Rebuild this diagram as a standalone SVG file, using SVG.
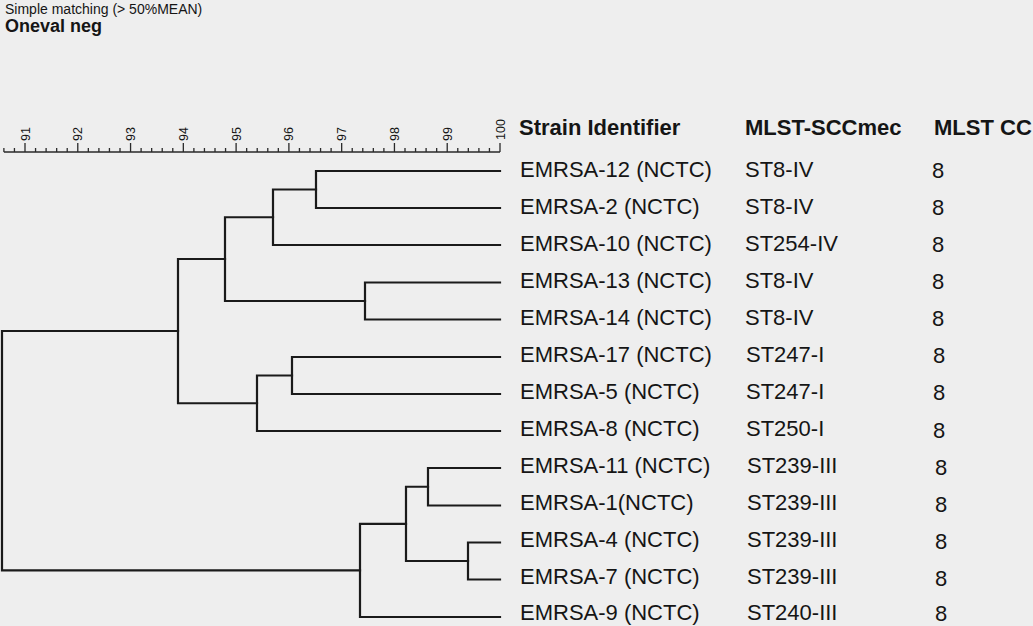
<svg xmlns="http://www.w3.org/2000/svg" width="1033" height="626" viewBox="0 0 1033 626">
<defs>
<style>
.t{font-family:"Liberation Sans",Arial,sans-serif;fill:#151515}
.row{font-size:22px}
.hd{font-size:22px;font-weight:bold}
.ax{font-size:12.5px}
.ln{fill:none;stroke:#1a1a1a;stroke-width:2.2;stroke-linecap:square}
.tk{fill:none;stroke:#2a2a2a;stroke-width:1.3}
</style>
</defs>
<rect width="1033" height="626" fill="#eeeeee"/>
<g id="title">
<text class="t" x="5" y="14" font-size="14">Simple matching (&gt; 50%MEAN)</text>
<text class="t" x="5" y="32" font-size="18" font-weight="bold">Oneval neg</text>
</g>
<g id="axis">
<path class="tk" d="M3.9,152 H500 M500,152 v-9 M447.22,152 v-9 M394.44,152 v-9 M341.67,152 v-9 M288.89,152 v-9 M236.11,152 v-9 M183.33,152 v-9 M130.56,152 v-9 M77.78,152 v-9 M25,152 v-9
M489.44,152 v-4 M478.89,152 v-4 M468.33,152 v-4 M457.78,152 v-4 M436.67,152 v-4 M426.11,152 v-4 M415.56,152 v-4 M405,152 v-4 M383.89,152 v-4 M373.33,152 v-4 M362.78,152 v-4 M352.22,152 v-4 M331.11,152 v-4 M320.56,152 v-4 M310,152 v-4 M299.44,152 v-4 M278.33,152 v-4 M267.78,152 v-4 M257.22,152 v-4 M246.67,152 v-4 M225.56,152 v-4 M215,152 v-4 M204.44,152 v-4 M193.89,152 v-4 M172.78,152 v-4 M162.22,152 v-4 M151.67,152 v-4 M141.11,152 v-4 M120,152 v-4 M109.44,152 v-4 M98.89,152 v-4 M88.33,152 v-4 M67.22,152 v-4 M56.67,152 v-4 M46.11,152 v-4 M35.56,152 v-4 M14.44,152 v-4 M3.89,152 v-4"/>
<g class="t ax">
<text transform="translate(29.5,141) rotate(-90)">91</text>
<text transform="translate(82.28,141) rotate(-90)">92</text>
<text transform="translate(135.06,141) rotate(-90)">93</text>
<text transform="translate(187.83,141) rotate(-90)">94</text>
<text transform="translate(240.61,141) rotate(-90)">95</text>
<text transform="translate(293.39,141) rotate(-90)">96</text>
<text transform="translate(346.17,141) rotate(-90)">97</text>
<text transform="translate(398.94,141) rotate(-90)">98</text>
<text transform="translate(451.72,141) rotate(-90)">99</text>
<text transform="translate(504.5,140) rotate(-90)">100</text>
</g>
</g>
<g id="header" class="t hd">
<text x="519" y="135">Strain Identifier</text>
<text x="745" y="135">MLST-SCCmec</text>
<text x="934" y="135">MLST CC</text>
</g>
<g id="connectors">
<path class="ln" d="M500,171 H316 V208 H500"/>
<path class="ln" d="M316,189.5 H273 V245 H500"/>
<path class="ln" d="M500,282.5 H365 V319.5 H500"/>
<path class="ln" d="M273,217.25 H225 V301 H365"/>
<path class="ln" d="M500,357 H292 V394 H500"/>
<path class="ln" d="M292,375.5 H257 V431 H500"/>
<path class="ln" d="M225,259 H178 V403.25 H257"/>
<path class="ln" d="M500,468 H428 V505.5 H500"/>
<path class="ln" d="M500,542.5 H468 V579.5 H500"/>
<path class="ln" d="M428,486.75 H406 V561 H468"/>
<path class="ln" d="M406,523.9 H360 V617 H500"/>
<path class="ln" d="M178,331 H2 V570.4 H360"/>
</g>
<g class="t row">
<g id="leaf-emrsa12"><text x="520" y="177">EMRSA-12 (NCTC)</text><text x="745" y="177">ST8-IV</text><text x="932" y="178">8</text></g>
<g id="leaf-emrsa2"><text x="520" y="214">EMRSA-2 (NCTC)</text><text x="745" y="214">ST8-IV</text><text x="932" y="215">8</text></g>
<g id="leaf-emrsa10"><text x="520" y="251">EMRSA-10 (NCTC)</text><text x="745" y="251">ST254-IV</text><text x="932" y="252">8</text></g>
<g id="leaf-emrsa13"><text x="520" y="288">EMRSA-13 (NCTC)</text><text x="745" y="288">ST8-IV</text><text x="932" y="289">8</text></g>
<g id="leaf-emrsa14"><text x="520" y="325">EMRSA-14 (NCTC)</text><text x="745" y="325">ST8-IV</text><text x="932" y="326">8</text></g>
<g id="leaf-emrsa17"><text x="520" y="362">EMRSA-17 (NCTC)</text><text x="746" y="362">ST247-I</text><text x="933" y="363">8</text></g>
<g id="leaf-emrsa5"><text x="520" y="399">EMRSA-5 (NCTC)</text><text x="746" y="399">ST247-I</text><text x="933" y="400">8</text></g>
<g id="leaf-emrsa8"><text x="520" y="436">EMRSA-8 (NCTC)</text><text x="746" y="436">ST250-I</text><text x="933" y="438">8</text></g>
<g id="leaf-emrsa11"><text x="520" y="473">EMRSA-11 (NCTC)</text><text x="747" y="473">ST239-III</text><text x="935" y="475">8</text></g>
<g id="leaf-emrsa1"><text x="520" y="510">EMRSA-1(NCTC)</text><text x="747" y="510">ST239-III</text><text x="935" y="512">8</text></g>
<g id="leaf-emrsa4"><text x="520" y="547">EMRSA-4 (NCTC)</text><text x="747" y="547">ST239-III</text><text x="935" y="549">8</text></g>
<g id="leaf-emrsa7"><text x="520" y="584">EMRSA-7 (NCTC)</text><text x="747" y="584">ST239-III</text><text x="935" y="586">8</text></g>
<g id="leaf-emrsa9"><text x="520" y="620">EMRSA-9 (NCTC)</text><text x="747" y="620">ST240-III</text><text x="935" y="621">8</text></g>
</g>
</svg>
